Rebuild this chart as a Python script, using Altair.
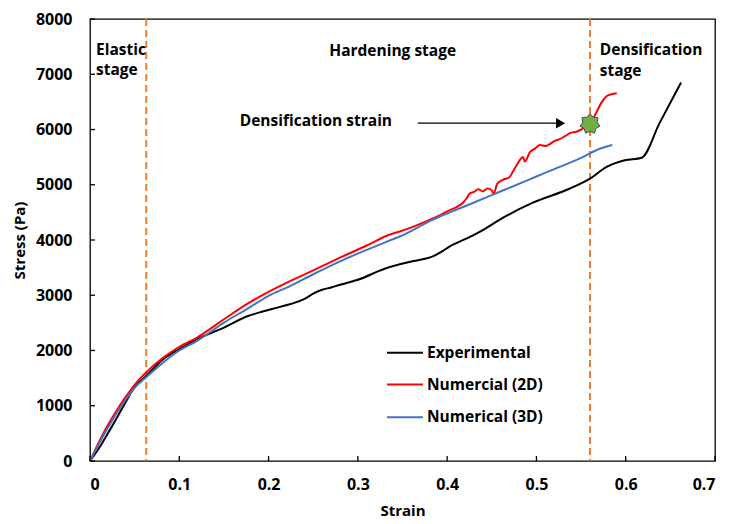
import math
import altair as alt
import pandas as pd

# ---------------- data ----------------
exp_strain = [0, 0.01, 0.02, 0.03, 0.04, 0.05, 0.063, 0.08, 0.1, 0.12, 0.15, 0.177, 0.19, 0.213,
              0.232, 0.242, 0.25, 0.26, 0.27, 0.28, 0.3, 0.33, 0.347, 0.36, 0.375, 0.384, 0.395,
              0.403, 0.422, 0.44, 0.459, 0.496, 0.5375, 0.56, 0.5786, 0.599, 0.618, 0.638, 0.662]
exp_stress = [0, 230, 500, 780, 1070, 1340, 1540, 1816, 2026, 2206, 2415, 2625, 2690, 2790,
              2880, 2950, 3030, 3100, 3140, 3190, 3280, 3480, 3560, 3610, 3660, 3704, 3800,
              3884, 4028, 4180, 4369, 4675, 4932, 5112, 5322, 5442, 5490, 6120, 6850]

num2d_strain = [0, 0.01, 0.02, 0.03, 0.04, 0.05, 0.063, 0.08, 0.1, 0.12, 0.15, 0.177, 0.2, 0.224,
                0.25, 0.28, 0.31, 0.336, 0.347, 0.384, 0.403, 0.412, 0.418, 0.422, 0.425, 0.43,
                0.435, 0.44, 0.445, 0.45, 0.452, 0.456, 0.4625, 0.47, 0.474, 0.478, 0.482, 0.485,
                0.487, 0.4927, 0.498, 0.504, 0.51, 0.515, 0.52, 0.526, 0.532, 0.5375, 0.545,
                0.551, 0.556, 0.56, 0.5655, 0.573, 0.58, 0.59]
num2d_stress = [0, 340, 650, 920, 1160, 1379, 1606, 1846, 2068, 2235, 2565, 2853, 3060, 3254,
                3450, 3680, 3900, 4100, 4153, 4390, 4540, 4610, 4680, 4760, 4837, 4870,
                4920, 4880, 4930, 4900, 4830, 5016, 5090, 5142, 5250, 5358, 5460, 5502,
                5420, 5592, 5650, 5718, 5700, 5736, 5790, 5826, 5880, 5934, 5960,
                6005, 6060, 6100, 6257, 6491, 6617, 6658]

num3d_strain = [0, 0.01, 0.02, 0.03, 0.04, 0.05, 0.063, 0.08, 0.1, 0.12, 0.15, 0.177, 0.2, 0.224,
                0.25, 0.28, 0.336, 0.347, 0.384, 0.403, 0.422, 0.459, 0.5, 0.515, 0.55, 0.571, 0.585]
num3d_stress = [0, 310, 600, 870, 1110, 1325, 1516, 1756, 2000, 2176, 2505, 2763, 2990, 3164,
                3380, 3614, 3992, 4063, 4369, 4500, 4625, 4873, 5149, 5250, 5485, 5651, 5720]

series_names = ["Experimental", "Numercial (2D)", "Numerical (3D)"]
series_colors = ["#000000", "#FF0000", "#4472C4"]

stage_lines = [0.063, 0.56]
star_strain, star_stress = [0.56], [6100]

x_ticks = [0, 0.1, 0.2, 0.3, 0.4, 0.5, 0.6, 0.7]
y_ticks = [0, 1000, 2000, 3000, 4000, 5000, 6000, 7000, 8000]

# ---------------- tables ----------------
rows = []
for name, xs_, ys_ in zip(series_names,
                          [exp_strain, num2d_strain, num3d_strain],
                          [exp_stress, num2d_stress, num3d_stress]):
    for i, (a, b) in enumerate(zip(xs_, ys_)):
        rows.append({"series": name, "strain": a, "stress": b, "idx": i})
df = pd.DataFrame(rows)

FONT = "Open Sans"
W, H = 625, 442
xs = alt.Scale(domain=[0, 0.7], nice=False, zero=False)
ys = alt.Scale(domain=[0, 8000], nice=False)
cs = alt.Scale(domain=series_names, range=series_colors)

lines = alt.Chart(df).mark_line(strokeWidth=2, interpolate="monotone").encode(
    x=alt.X("strain:Q", scale=xs, title="Strain",
            axis=alt.Axis(values=x_ticks, format="~f", labelPadding=15, titlePadding=11)),
    y=alt.Y("stress:Q", scale=ys, title="Stress (Pa)",
            axis=alt.Axis(values=y_ticks, format="d", labelPadding=18, titlePadding=8)),
    color=alt.Color("series:N", scale=cs, legend=None),
    order=alt.Order("idx:Q"),
)

# inward ticks
yt = alt.Chart(pd.DataFrame({"v": y_ticks})).mark_rule(color="black", strokeWidth=1.3).encode(
    y=alt.Y("v:Q", scale=ys), x=alt.value(0), x2=alt.value(5))
xt = alt.Chart(pd.DataFrame({"v": x_ticks})).mark_rule(color="black", strokeWidth=1.3).encode(
    x=alt.X("v:Q", scale=xs), y=alt.value(H), y2=alt.value(H - 5))

dashes = alt.Chart(pd.DataFrame({"x": stage_lines})).mark_rule(
    color="#ED7D31", strokeDash=[7, 4], strokeWidth=2).encode(x=alt.X("x:Q", scale=xs))

# 7-point star path
pts = []
for k in range(14):
    r = 1.0 if k % 2 == 0 else 0.72
    a = -math.pi / 2 + k * math.pi / 7
    pts.append(f"{r*math.cos(a):.3f},{r*math.sin(a):.3f}")
star_path = "M" + " L".join(pts) + " Z"

star = alt.Chart(pd.DataFrame({"x": star_strain, "y": star_stress})).mark_point(
    shape=star_path, filled=True, fill="#70AD47", stroke="#44546A", strokeWidth=1,
    size=420, opacity=1).encode(x=alt.X("x:Q", scale=xs), y=alt.Y("y:Q", scale=ys))

arrow_line = alt.Chart(pd.DataFrame({"x": [0.367], "x2": [0.522], "y": [6115]})).mark_rule(
    color="black", strokeWidth=1.3).encode(
    x=alt.X("x:Q", scale=xs), x2="x2:Q", y=alt.Y("y:Q", scale=ys))
arrow_head = alt.Chart(pd.DataFrame({"x": [0.527], "y": [6115]})).mark_point(
    shape="triangle-right", filled=True, color="black", size=110, opacity=1).encode(
    x=alt.X("x:Q", scale=xs), y=alt.Y("y:Q", scale=ys))

ann_left = pd.DataFrame({
    "t": ["Elastic", "stage", "Densification", "stage"],
    "x": [0.0067, 0.0067, 0.571, 0.571],
    "y": [7444, 7084, 7444, 7066],
})
ann_center = pd.DataFrame({
    "t": ["Hardening stage", "Densification strain"],
    "x": [0.339, 0.253],
    "y": [7426, 6150],
})
txt_l = alt.Chart(ann_left).mark_text(align="left", baseline="middle", font=FONT,
                                      fontWeight="bold", fontSize=15.5, color="black").encode(
    x=alt.X("x:Q", scale=xs), y=alt.Y("y:Q", scale=ys), text="t:N")
txt_c = alt.Chart(ann_center).mark_text(align="center", baseline="middle", font=FONT,
                                        fontWeight="bold", fontSize=15.5, color="black").encode(
    x=alt.X("x:Q", scale=xs), y=alt.Y("y:Q", scale=ys), text="t:N")

# legend (drawn in the plot)
leg = pd.DataFrame({"series": series_names, "y": [1960, 1384, 791],
                    "x": [0.3326] * 3, "x2": [0.3729] * 3, "tx": [0.3774] * 3})
leg_lines = alt.Chart(leg).mark_rule(strokeWidth=2).encode(
    x=alt.X("x:Q", scale=xs), x2="x2:Q", y=alt.Y("y:Q", scale=ys),
    color=alt.Color("series:N", scale=cs, legend=None))
leg_text = alt.Chart(leg).mark_text(align="left", baseline="middle", font=FONT,
                                    fontWeight="bold", fontSize=15.5, color="black").encode(
    x=alt.X("tx:Q", scale=xs), y=alt.Y("y:Q", scale=ys), text="series:N")

chart = alt.layer(
    dashes, lines, yt, xt, arrow_line, arrow_head, star, txt_l, txt_c, leg_lines, leg_text
).properties(
    width=W, height=H,
    padding={"left": 82, "top": 11, "right": 6, "bottom": 62},
    autosize=alt.AutoSizeParams(type="none"),
    background="white",
).configure_view(
    stroke="black", strokeWidth=1.3
).configure_axis(
    grid=False, ticks=False, domain=False,
    labelFont=FONT, labelFontWeight="bold", labelFontSize=16, labelColor="black",
    titleFont=FONT, titleFontWeight="bold", titleFontSize=15, titleColor="black",
)

chart.save("out.html", embed_options={"renderer": "svg", "actions": False})
